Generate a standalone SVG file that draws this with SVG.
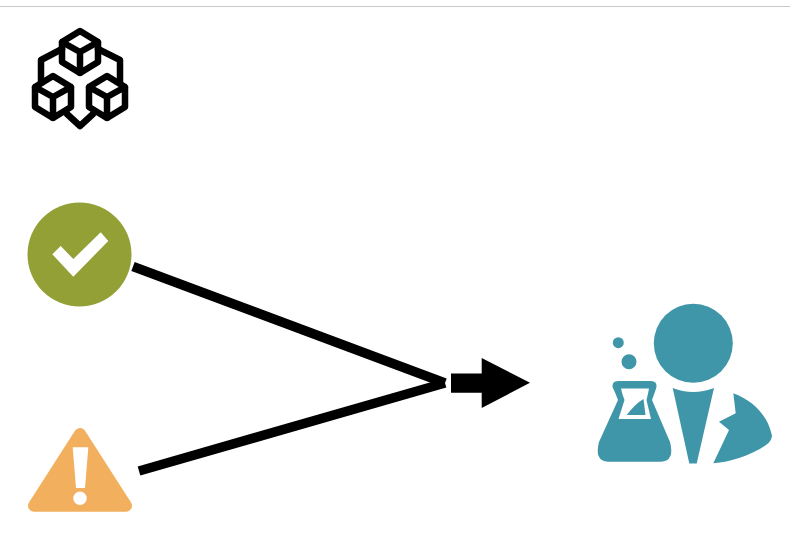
<svg xmlns="http://www.w3.org/2000/svg" width="790" height="541" viewBox="0 0 790 541">
<style>
.ico{fill:none;stroke:#000;stroke-width:6.5;stroke-linejoin:round;stroke-linecap:round}
.teal{fill:#4096a9}
.conn{fill:none;stroke:#000;stroke-width:9.5}
.soft{filter:url(#soft)}
</style>
<defs>
<filter id="soft" x="-5%" y="-5%" width="110%" height="110%"><feGaussianBlur stdDeviation="0.6"/></filter>
<g id="cube"><path d="M0 -21L18 -10V10L0 21L-18 10V-10Z M-18 -10L0 0L18 -10 M0 0V21"/></g>
</defs>
<rect width="790" height="541" fill="#fff"/>
<line x1="0" y1="6.500" x2="790" y2="6.500" stroke="#c9c9c9" stroke-width="1.2"/>
<g class="soft">
<g id="node-cubes" class="ico">
<use href="#cube" x="80" y="52"/>
<use href="#cube" x="53" y="97"/>
<use href="#cube" x="107" y="97"/>
<path d="M62 49L41 60V83 M98 49L120 60V83 M67 114L80 126L93 114"/>
</g>
<g id="node-check">
<circle cx="79.500" cy="254.500" r="52" fill="#93a035"/>
<polygon points="52.300,254.300 60.700,246 73.300,259 100.700,232.300 108.300,241 73.300,276.700" fill="#fff"/>
</g>
<g id="node-warning">
<path d="M80 434L126 505.700H34Z" fill="#f2b05e" stroke="#f2b05e" stroke-width="12" stroke-linejoin="round"/>
<polygon points="72.700,447.300 88.300,447.300 85,488 76,488" fill="#fff"/>
<circle cx="80" cy="498.300" r="6.700" fill="#fff"/>
</g>
<g id="connectors">
<path class="conn" d="M133 266.500L445 383"/>
<path class="conn" d="M139 471L445 383"/>
<path d="M451 373.500H481.700V358L530 382.700L481.700 408V392.700H451Z" fill="#000"/>
</g>
<g id="node-scientist" class="teal">
<circle cx="693.300" cy="343.300" r="39.500"/>
<path d="M672.700 388Q693 396 714 388L696.700 463.500H689.300Z"/>
<path d="M733.300 393.300C752 400 768 415 772 436Q771 442 766 445C750 456 730 462 713.300 463.300L729 430L719 421.700L735.700 413.300Z"/>
<circle cx="618.300" cy="342.700" r="5.500"/>
<circle cx="629" cy="361.700" r="7.500"/>
<path fill-rule="evenodd" d="M618 381H651Q657 381 656.500 387Q655 392 652 400L670 442Q675 461 661 461.700H608Q594 461 599 442L618 400Q615 392 612.500 387Q612 381 618 381Z M621 388.500Q622 394 624.500 400L618.500 419H651L646.500 400Q648 394 649 388.500Z"/>
<path d="M643.500 399L645.500 415H626.700Q635 404 643.500 399Z"/>
</g>
</g>
</svg>
